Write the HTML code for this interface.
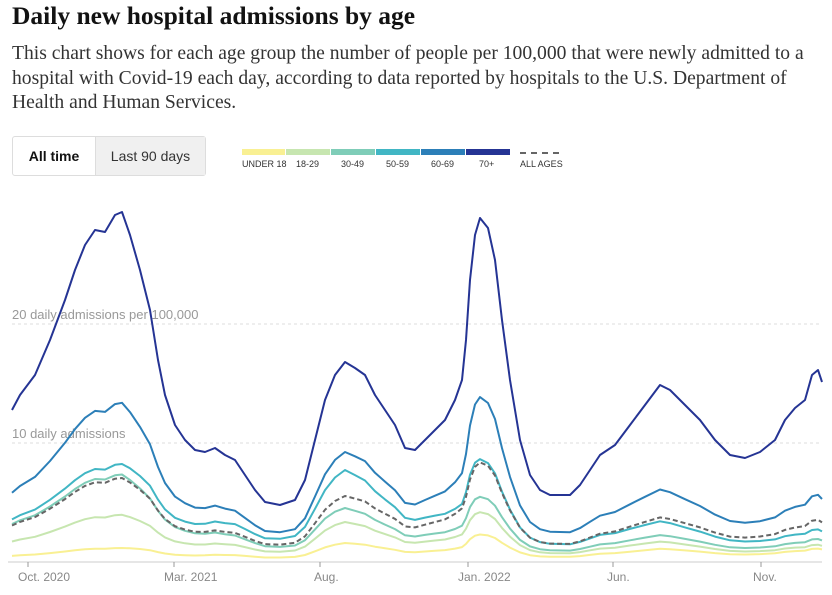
<!DOCTYPE html>
<html><head><meta charset="utf-8"><style>
body{margin:0;width:832px;height:595px;background:#fff;overflow:hidden;position:relative;font-family:"Liberation Sans",sans-serif}
h1{position:absolute;left:12px;top:1px;margin:0;font:bold 25.5px "Liberation Serif",serif;color:#121212}
p{position:absolute;left:12px;top:42px;margin:0;width:812px;font:19.6px/24.5px "Liberation Serif",serif;color:#333}
.btns{position:absolute;left:12px;top:136px;width:192px;height:38px;border:1px solid #ddd;border-radius:3px;display:flex;font-size:14px}
.btns div{display:flex;align-items:center;justify-content:center}
</style></head><body>
<h1>Daily new hospital admissions by age</h1>
<p>This chart shows for each age group the number of people per 100,000 that were newly admitted to a hospital with Covid-19 each day, according to data reported by hospitals to the U.S. Department of Health and Human Services.</p>
<div class="btns"><div style="width:82px;font-weight:bold;color:#121212">All time</div><div style="flex:1;background:#f0f0f0;border-left:1px solid #ddd;color:#333">Last 90 days</div></div>
<svg width="832" height="595" style="position:absolute;left:0;top:0" id="s">
<g font-size="9" fill="#333" font-family="Liberation Sans">
<rect x="242" y="149" width="43" height="6" fill="#f9f093"/><rect x="286" y="149" width="44" height="6" fill="#c7e6b0"/><rect x="331" y="149" width="44" height="6" fill="#7fcdb8"/><rect x="376" y="149" width="44" height="6" fill="#41b6c4"/><rect x="421" y="149" width="44" height="6" fill="#2c7fb8"/><rect x="466" y="149" width="44" height="6" fill="#253494"/>
<line x1="520" y1="153" x2="560" y2="153" stroke="#666" stroke-width="2" stroke-dasharray="6,5"/>
<text x="242" y="167">UNDER 18</text><text x="296" y="167">18-29</text><text x="341" y="167">30-49</text><text x="386" y="167">50-59</text><text x="431" y="167">60-69</text><text x="479" y="167">70+</text><text x="520" y="167">ALL AGES</text>
</g>
<line x1="12" y1="324" x2="822" y2="324" stroke="#ddd" stroke-dasharray="3,3"/>
<line x1="12" y1="443" x2="822" y2="443" stroke="#ddd" stroke-dasharray="3,3"/>
<text x="12" y="319" font-size="13" fill="#999">20 daily admissions per 100,000</text>
<text x="12" y="438" font-size="13" fill="#999">10 daily admissions</text>
<line x1="8" y1="562" x2="822" y2="562" stroke="#ccc"/>
<g stroke="#999"><line x1="28" y1="562" x2="28" y2="567"/><line x1="174" y1="562" x2="174" y2="567"/><line x1="320" y1="562" x2="320" y2="567"/><line x1="468" y1="562" x2="468" y2="567"/><line x1="613" y1="562" x2="613" y2="567"/><line x1="761" y1="562" x2="761" y2="567"/></g>
<g font-size="12" fill="#888"><text x="18" y="581">Oct. 2020</text><text x="164" y="581">Mar. 2021</text><text x="314" y="581">Aug.</text><text x="458" y="581">Jan. 2022</text><text x="607" y="581">Jun.</text><text x="753" y="581">Nov.</text></g>
<g id="g" fill="none" stroke-linejoin="round"></g>
</svg>
<script>
var P=[[12,410],[20,395],[35,375],[50,340],[65,300],[75,270],[85,245],[95,230],[105,232],[115,215],[122,212],[130,235],[140,270],[150,310],[158,360],[165,395],[175,425],[185,440],[195,450],[205,452],[215,448],[225,455],[235,460],[245,475],[255,490],[265,502],[280,505],[295,500],[305,480],[315,440],[325,400],[335,375],[345,362],[355,368],[365,375],[375,395],[385,410],[395,425],[405,448],[415,450],[425,440],[435,430],[445,420],[455,400],[462,380],[466,340],[470,280],[475,235],[480,218],[488,228],[495,260],[502,320],[510,380],[520,440],[530,475],[540,490],[550,495],[570,495],[580,485],[590,470],[600,455],[615,445],[630,425],[645,405],[660,385],[670,390],[685,405],[700,420],[715,440],[730,455],[745,458],[760,452],[775,440],[785,420],[795,408],[805,400],[812,375],[818,370],[822,382]];
var AX=[122,345,478,815];
var S=[
["#f9f093",[0.04,0.095,0.08,0.07],0],
["#c7e6b0",[0.135,0.2,0.145,0.09],0],
["#7fcdb8",[0.25,0.27,0.19,0.12],0],
["#41b6c4",[0.28,0.46,0.30,0.17],0],
["#666",[0.24,0.33,0.29,0.22],1],
["#2c7fb8",[0.455,0.55,0.48,0.35],0],
["#253494",[1,1,1,1],0]];
function r(a,x){if(x<=AX[0])return a[0];for(var i=1;i<AX.length;i++)if(x<=AX[i]){var t=(x-AX[i-1])/(AX[i]-AX[i-1]);return a[i-1]+(a[i]-a[i-1])*t;}return a[3];}
var g=document.getElementById('g'),h='';
S.forEach(function(s){var d=P.map(function(p,i){var v=(562-p[1])*r(s[1],p[0]);return(i?'L':'M')+p[0]+','+(562-v).toFixed(1);}).join('');
h+='<path d="'+d+'" stroke="'+s[0]+'" stroke-width="2"'+(s[2]?' stroke-dasharray="5,3"':'')+'/>';});
g.innerHTML=h;
</script>
</body></html>
